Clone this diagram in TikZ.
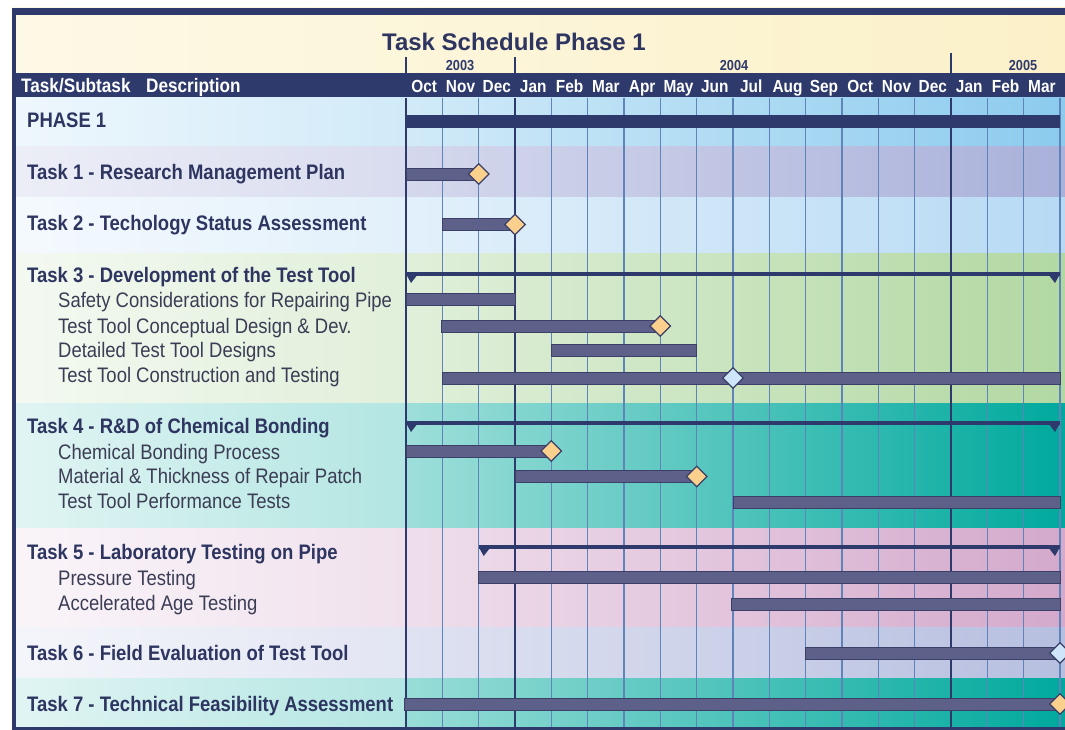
\documentclass[tikz,border=0pt]{standalone}
\usepackage{fontspec}
\setmainfont{Liberation Sans}[FakeStretch=0.88]
\newfontfamily\titlefont{Liberation Sans}
\usetikzlibrary{shapes.geometric}

\definecolor{navy}{HTML}{2E3A6B}
\definecolor{barfill}{HTML}{5D6189}
\definecolor{barline}{HTML}{3C4068}
\definecolor{gridblue}{HTML}{5F84BA}
\definecolor{tasktext}{HTML}{2D3560}
\definecolor{subtext}{HTML}{3B3D55}
\definecolor{goldms}{HTML}{FBD08C}
\definecolor{bluems}{HTML}{CDE6F8}
\definecolor{creamleft}{HTML}{FDF9E6}
\definecolor{creamright}{HTML}{FBF0C8}
\definecolor{rowphase}{HTML}{8CCBEE}
\definecolor{rowone}{HTML}{AAB1DA}
\definecolor{rowtwo}{HTML}{B7DAF4}
\definecolor{rowthree}{HTML}{B2D8A2}
\definecolor{rowfour}{HTML}{00A99D}
\definecolor{rowfive}{HTML}{D4A9CC}
\definecolor{rowsix}{HTML}{B7BFE0}

\begin{document}
\begin{tikzpicture}[x=1pt,y=-1pt,
  taskbar/.style={fill=barfill, draw=barline, line width=0.8pt},
  summary/.style={draw=navy, line width=4.5pt},
  milestone/.style={diamond, draw=barline, line width=1.2pt, fill=goldms,
    minimum width=21pt, minimum height=21pt, inner sep=0pt},
  mslight/.style={milestone, fill=bluems},
  tasklbl/.style={anchor=base west, inner sep=0pt, text=tasktext,
    font=\bfseries\fontsize{21}{25}\selectfont},
  sublbl/.style={anchor=base west, inner sep=0pt, text=subtext,
    font=\fontsize{21}{25}\selectfont},
  hdlbl/.style={anchor=base west, inner sep=0pt, text=white,
    font=\bfseries\fontsize{19.5}{23}\selectfont},
  monthlbl/.style={anchor=base, inner sep=0pt, text=white,
    font=\bfseries\fontsize{17.5}{21}\selectfont},
  yearlbl/.style={anchor=base, inner sep=0pt, text=navy,
    font=\bfseries\fontsize{14.5}{17}\selectfont}]
\useasboundingbox (0,0) rectangle (1065,730);
\fill [white] (0,0) rectangle (1065,730);
% header
\shade [left color=creamleft, right color=creamright] (12,8) rectangle (1065,73);
\fill [navy] (12,8) rectangle (1065,15);
\fill [navy] (12,73) rectangle (1065,98);
\node [anchor=base, inner sep=0pt, text=tasktext, font=\titlefont\bfseries\fontsize{24}{28}\selectfont] (title) at (514,51) {Task Schedule Phase 1};
\draw [navy, line width=1.2pt] (406,57) -- (406,73);
\draw [navy, line width=1.2pt] (515,57) -- (515,73);
\draw [navy, line width=2pt] (951,53) -- (951,73);
\node [yearlbl] (y2003) at (460,71) {2003};
\node [yearlbl] (y2004) at (734,71) {2004};
\node [yearlbl] (y2005) at (1023,71) {2005};
\node [hdlbl] (hdtask) at (21,93) {Task/Subtask};
\node [hdlbl] (hddesc) at (146,93) {Description};
\foreach \mn [count=\i from 0] in {Oct,Nov,Dec,Jan,Feb,Mar,Apr,May,Jun,Jul,Aug,Sep,Oct,Nov,Dec,Jan,Feb,Mar}
  \node [monthlbl] (mon\i) at ({424.2+36.333*\i},93) {\mn};
% row bands
\shade [left color=rowphase!15, right color=rowphase!40] (16,98) rectangle (406,147);
\shade [left color=rowphase!40, right color=rowphase] (406,98) rectangle (1065,147);
\shade [left color=rowone!22, right color=rowone!45] (16,147) rectangle (406,198);
\shade [left color=rowone!50, right color=rowone] (406,147) rectangle (1065,198);
\shade [left color=rowtwo!15, right color=rowtwo!40] (16,198) rectangle (406,253);
\shade [left color=rowtwo!40, right color=rowtwo] (406,198) rectangle (1065,253);
\shade [left color=rowthree!15, right color=rowthree!40] (16,253) rectangle (406,403);
\shade [left color=rowthree!40, right color=rowthree] (406,253) rectangle (1065,403);
\shade [left color=rowfour!12, right color=rowfour!30] (16,403) rectangle (406,528);
\shade [left color=rowfour!38, right color=rowfour] (406,403) rectangle (1065,528);
\shade [left color=rowfive!12, right color=rowfive!35] (16,528) rectangle (406,627);
\shade [left color=rowfive!38, right color=rowfive] (406,528) rectangle (1065,627);
\shade [left color=rowsix!15, right color=rowsix!40] (16,627) rectangle (406,678);
\shade [left color=rowsix!45, right color=rowsix] (406,627) rectangle (1065,678);
\shade [left color=rowfour!12, right color=rowfour!30] (16,678) rectangle (406,727);
\shade [left color=rowfour!40, right color=rowfour] (406,678) rectangle (1065,727);
% grid
\foreach \m in {1,...,18}
  \draw [gridblue, line width=1.3pt] ({406+36.333*\m},98) -- ({406+36.333*\m},727);
\draw [navy, line width=1.6pt] (515,98) -- (515,727);
\draw [navy, line width=1.6pt] (951,98) -- (951,727);
\draw [navy, line width=2pt] (406,98) -- (406,727);
\fill [navy] (12,8) rectangle (16,730);
\fill [navy] (12,726.5) rectangle (1065,730);
% labels
\node [tasklbl] (phase) at (27,128) {PHASE 1};
\node [tasklbl] (task1) at (27,180) {Task 1 - Research Management Plan};
\node [tasklbl] (task2) at (27,230) {Task 2 - Techology Status Assessment};
\node [tasklbl] (task3) at (27,282) {Task 3 - Development of the Test Tool};
\node [sublbl] (sub3a) at (58,307.5) {Safety Considerations for Repairing Pipe};
\node [sublbl] (sub3b) at (58,333) {Test Tool Conceptual Design \& Dev.};
\node [sublbl] (sub3c) at (58,357.5) {Detailed Test Tool Designs};
\node [sublbl] (sub3d) at (58,382) {Test Tool Construction and Testing};
\node [tasklbl] (task4) at (27,433) {Task 4 - R\&D of Chemical Bonding};
\node [sublbl] (sub4a) at (58,459) {Chemical Bonding Process};
\node [sublbl] (sub4b) at (58,483.5) {Material \& Thickness of Repair Patch};
\node [sublbl] (sub4c) at (58,508) {Test Tool Performance Tests};
\node [tasklbl] (task5) at (27,559) {Task 5 - Laboratory Testing on Pipe};
\node [sublbl] (sub5a) at (58,585) {Pressure Testing};
\node [sublbl] (sub5b) at (58,610) {Accelerated Age Testing};
\node [tasklbl] (task6) at (27,660) {Task 6 - Field Evaluation of Test Tool};
\node [tasklbl] (task7) at (27,711) {Task 7 - Technical Feasibility Assessment};
% bars
\fill [navy] (406,115) rectangle (1060,128);
\draw [taskbar] (406,168) rectangle (478.7,180);
\draw [taskbar] (442.3,218.5) rectangle (515,230.5);
\draw [summary] (406,274) -- (1060,274);
\fill [navy] (406,274) -- (418,274) -- (411,283) -- cycle;
\fill [navy] (1048,274) -- (1060,274) -- (1055,283) -- cycle;
\draw [taskbar] (406,293.5) rectangle (515,305.5);
\draw [taskbar] (441,320) rectangle (660.3,332);
\draw [taskbar] (551.3,344) rectangle (696.7,356);
\draw [taskbar] (442.3,372) rectangle (1060,384);
\draw [summary] (406,423) -- (1060,423);
\fill [navy] (406,423) -- (418,423) -- (411,432) -- cycle;
\fill [navy] (1048,423) -- (1060,423) -- (1055,432) -- cycle;
\draw [taskbar] (406,445) rectangle (551.3,457);
\draw [taskbar] (515,470.5) rectangle (696.7,482.5);
\draw [taskbar] (733,496.5) rectangle (1060,508.5);
\draw [summary] (478.7,547) -- (1060,547);
\fill [navy] (478.7,547) -- (490.7,547) -- (483.7,556) -- cycle;
\fill [navy] (1048,547) -- (1060,547) -- (1055,556) -- cycle;
\draw [taskbar] (478.7,571.5) rectangle (1060,583.5);
\draw [taskbar] (731,598.5) rectangle (1060,610.5);
\draw [taskbar] (805.7,647) rectangle (1060,659);
\draw [taskbar] (404,698) rectangle (1060,710);
% milestones
\node [milestone] (ms1) at (478.7,174) {};
\node [milestone] (ms2) at (515,224.5) {};
\node [milestone] (ms3b) at (660.3,326) {};
\node [mslight] (ms3d) at (733,378) {};
\node [milestone] (ms4a) at (551.3,451) {};
\node [milestone] (ms4b) at (696.7,476.5) {};
\node [mslight] (ms6) at (1060,653) {};
\node [milestone] (ms7) at (1060,704) {};
\end{tikzpicture}
\end{document}
